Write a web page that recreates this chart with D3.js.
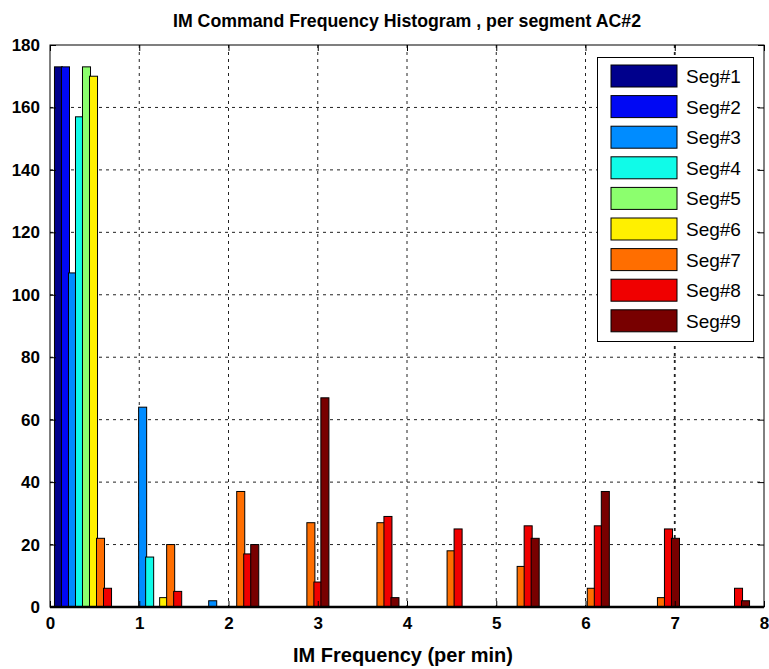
<!DOCTYPE html>
<html>
<head>
<meta charset="utf-8">
<script src="https://cdn.jsdelivr.net/npm/d3@7"></script>
<style>
html,body{margin:0;padding:0;background:#fff;}
svg{display:block;}
</style>
</head>
<body>
<svg id="chart" width="769" height="669"></svg>
<script>
// ---- data ----
const binCenters = [0.409, 1.195, 1.980, 2.766, 3.551, 4.337, 5.122, 5.908, 6.694, 7.479];
const seriesNames = ["Seg#1","Seg#2","Seg#3","Seg#4","Seg#5","Seg#6","Seg#7","Seg#8","Seg#9"];
const seg1 = [173, 0, 0, 0, 0, 0, 0, 0, 0, 0];
const seg2 = [173, 0, 0, 0, 0, 0, 0, 0, 0, 0];
const seg3 = [107, 64, 2, 0, 0, 0, 0, 0, 0, 0];
const seg4 = [157, 16, 0, 0, 0, 0, 0, 0, 0, 0];
const seg5 = [173, 0, 0, 0, 0, 0, 0, 0, 0, 0];
const seg6 = [170, 3, 0, 0, 0, 0, 0, 0, 0, 0];
const seg7 = [22, 20, 37, 27, 27, 18, 13, 6, 3, 0];
const seg8 = [6, 5, 17, 8, 29, 25, 26, 26, 25, 6];
const seg9 = [0, 0, 20, 67, 3, 0, 22, 37, 22, 2];
const seriesValues = [seg1, seg2, seg3, seg4, seg5, seg6, seg7, seg8, seg9];
const seriesColors = ["#00008c","#0008f4","#008cff","#10fbe8","#8cff6e","#fff000","#ff6e00","#f00000","#780000"];
const xTicks = [0,1,2,3,4,5,6,7,8];
const yTicks = [0,20,40,60,80,100,120,140,160,180];
const titleText = "IM Command Frequency Histogram , per segment AC#2";
const xLabelText = "IM Frequency (per min)";

// ---- layout ----
const svg = d3.select("#chart");
const L = 50, R = 764, T = 45, B = 607;
const x = d3.scaleLinear().domain([0, 8]).range([L, R]);
const y = d3.scaleLinear().domain([0, 180]).range([B, T]);
const step = 0.0785, barW = 0.09;
const narrow = "'Liberation Sans Narrow','Arial Narrow','Liberation Sans',Arial,sans-serif";

svg.append("rect").attr("width", 769).attr("height", 669).attr("fill", "#fff");

// grid
const grid = svg.append("g");
grid.selectAll("line.vx").data(xTicks.filter(d => d > 0 && d < 8)).join("line")
  .attr("x1", d => x(d)).attr("x2", d => x(d)).attr("y1", T).attr("y2", B)
  .attr("stroke", "#222").attr("stroke-width", d => d === 7 ? 1.8 : 1)
  .attr("stroke-dasharray", "3,4");
grid.selectAll("line.hy").data(yTicks.filter(d => d > 0 && d < 180)).join("line")
  .attr("x1", L).attr("x2", R).attr("y1", d => y(d)).attr("y2", d => y(d))
  .attr("stroke", "#222").attr("stroke-width", 1)
  .attr("stroke-dasharray", "3,4");

// bars
const bars = svg.append("g");
seriesValues.forEach((vals, i) => {
  bars.selectAll(null).data(vals.map((v, k) => ({v, k}))).join("rect")
    .filter(d => d.v > 0)
    .attr("x", d => x(binCenters[d.k] + (i - 4) * step - barW / 2))
    .attr("width", d => x(barW) - x(0))
    .attr("y", d => y(d.v))
    .attr("height", d => y(0) - y(d.v))
    .attr("fill", seriesColors[i])
    .attr("stroke", "#000").attr("stroke-width", 1);
});

// axes box
svg.append("rect").attr("x", L).attr("y", T).attr("width", R - L).attr("height", B - T)
  .attr("fill", "none").attr("stroke", "#000").attr("stroke-width", 1);
svg.append("line").attr("x1", L).attr("x2", R).attr("y1", B).attr("y2", B)
  .attr("stroke", "#000").attr("stroke-width", 2.5);

// axes with inward ticks
const xAxisB = d3.axisBottom(x).tickValues(xTicks).tickSize(-6).tickPadding(10).tickFormat(d3.format("d"));
const xAxisT = d3.axisTop(x).tickValues(xTicks).tickSize(-6).tickFormat("");
const yAxisL = d3.axisLeft(y).tickValues(yTicks).tickSize(-6).tickPadding(10).tickFormat(d3.format("d"));
const yAxisR = d3.axisRight(y).tickValues(yTicks).tickSize(-6).tickFormat("");
function styleAxis(g) {
  g.select(".domain").remove();
  g.selectAll(".tick line").attr("stroke", "#000");
  g.selectAll("text").attr("fill", "#000").style("font-family", narrow)
    .style("font-weight", "bold").style("font-size", "17px");
}
svg.append("g").attr("transform", `translate(0,${B})`).call(xAxisB).call(styleAxis);
svg.append("g").attr("transform", `translate(0,${T})`).call(xAxisT).call(styleAxis);
svg.append("g").attr("transform", `translate(${L},0)`).call(yAxisL).call(styleAxis);
svg.append("g").attr("transform", `translate(${R},0)`).call(yAxisR).call(styleAxis);

// title and x label
svg.append("text").attr("x", 407).attr("y", 27).attr("text-anchor", "middle")
  .style("font-family", narrow).style("font-weight", "bold").style("font-size", "19px")
  .attr("textLength", 468).attr("lengthAdjust", "spacingAndGlyphs")
  .text(titleText);
svg.append("text").attr("x", 403).attr("y", 662).attr("text-anchor", "middle")
  .style("font-family", narrow).style("font-weight", "bold").style("font-size", "20px")
  .attr("textLength", 220).attr("lengthAdjust", "spacingAndGlyphs")
  .text(xLabelText);

// legend
const lg = svg.append("g");
lg.append("rect").attr("x", 597.5).attr("y", 57.5).attr("width", 156).attr("height", 284)
  .attr("fill", "#fff").attr("stroke", "#000").attr("stroke-width", 1);
seriesNames.forEach((name, i) => {
  const cy = 76 + i * 30.6;
  lg.append("rect").attr("x", 611).attr("y", cy - 11).attr("width", 66).attr("height", 22)
    .attr("fill", seriesColors[i]).attr("stroke", "#000").attr("stroke-width", 1);
  lg.append("text").attr("x", 686).attr("y", cy + 7)
    .style("font-family", "'Liberation Sans',Arial,sans-serif").style("font-size", "19px")
    .attr("fill", "#000").text(name);
});
</script>
</body>
</html>
